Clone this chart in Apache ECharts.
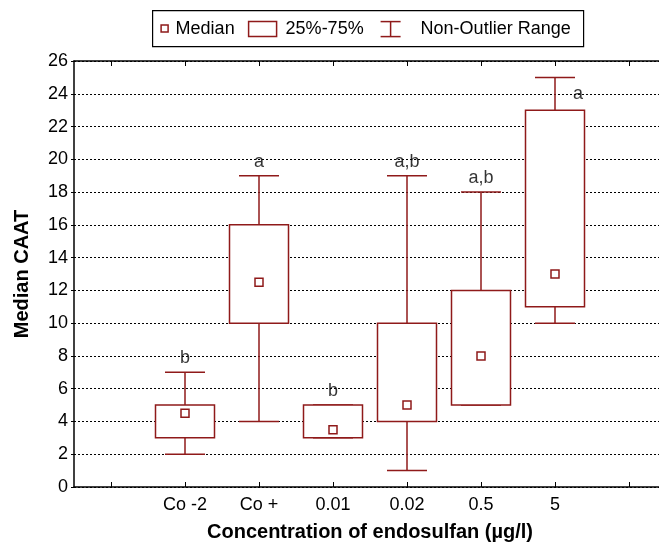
<!DOCTYPE html>
<html>
<head>
<meta charset="utf-8">
<script src="https://cdn.jsdelivr.net/npm/echarts@6/dist/echarts.min.js"></script>
<style>
  html, body { margin: 0; padding: 0; background: #fff; }
  #chart { width: 659px; height: 544px; }
</style>
</head>
<body>
<div id="chart"></div>
<script>
// categories (blank slots at both ends, like the original axis)
var categories = ['', 'Co -2', 'Co +', '0.01', '0.02', '0.5', '5', ''];
var groups = ['Co -2', 'Co +', '0.01', '0.02', '0.5', '5'];
var whiskerLow = [2, 4, 3, 1, 5, 10];
var q1 = [3, 10, 3, 4, 5, 11];
var median = [4.5, 12.5, 3.5, 5, 8, 13];
var q3 = [5, 16, 5, 10, 12, 23];
var whiskerHigh = [7, 19, 5, 19, 18, 25];
var letters = ['b', 'a', 'b', 'a,b', 'a,b', 'a'];
var yTicks = [0, 26, 2]; // min, max, step

var RED = '#8f1a1a';
var FONT = 'Liberation Sans, Arial, sans-serif';

var chart = echarts.init(document.getElementById('chart'));

function whiskerItem(params, api) {
  var x = api.value(0);
  var lo = api.coord([x, api.value(1)]);
  var hi = api.coord([x, api.value(2)]);
  var half = 20;
  var st = { stroke: RED, lineWidth: 1.5 };
  return {
    type: 'group',
    children: [
      { type: 'line', shape: { x1: lo[0], y1: lo[1], x2: hi[0], y2: hi[1] }, style: st },
      { type: 'line', shape: { x1: lo[0] - half, y1: lo[1], x2: lo[0] + half, y2: lo[1] }, style: st },
      { type: 'line', shape: { x1: hi[0] - half, y1: hi[1], x2: hi[0] + half, y2: hi[1] }, style: st }
    ]
  };
}

function boxItem(params, api) {
  var x = api.value(0);
  var bot = api.coord([x, api.value(1)]);
  var top = api.coord([x, api.value(2)]);
  var half = 29.5;
  return {
    type: 'rect',
    shape: { x: bot[0] - half, y: top[1], width: half * 2, height: bot[1] - top[1] },
    style: { fill: '#fff', stroke: RED, lineWidth: 1.5 }
  };
}

var option = {
  animation: false,
  textStyle: { fontFamily: FONT },
  grid: { left: 74, top: 61, width: 592, height: 426, outerBoundsMode: 'none', containLabel: false },
  xAxis: [
    {
      type: 'category',
      data: categories,
      boundaryGap: true,
      axisLine: { lineStyle: { color: '#000', width: 1.5 } },
      axisTick: { show: true, interval: 0, alignWithLabel: true, inside: true, length: 5, lineStyle: { color: '#000' } },
      axisLabel: { color: '#000', fontSize: 18, margin: 9, fontFamily: FONT, interval: 0 },
      splitLine: { show: false },
      name: 'Concentration of endosulfan (\u00b5g/l)',
      nameLocation: 'middle',
      nameGap: 35,
      nameTextStyle: { color: '#000', fontSize: 20, fontWeight: 'bold', fontFamily: FONT }
    },
    {
      type: 'category',
      position: 'top',
      data: categories,
      boundaryGap: true,
      axisLine: { lineStyle: { color: '#000', width: 1.5 } },
      axisTick: { show: true, interval: 0, alignWithLabel: true, inside: true, length: 5, lineStyle: { color: '#000' } },
      axisLabel: { show: false }
    }
  ],
  yAxis: {
    type: 'value',
    min: yTicks[0],
    max: yTicks[1],
    interval: yTicks[2],
    axisLine: { show: true, lineStyle: { color: '#000', width: 1.5 } },
    axisTick: { show: true, length: 3, lineStyle: { color: '#000' } },
    axisLabel: { color: '#000', fontSize: 18, margin: 6, fontFamily: FONT },
    splitLine: { lineStyle: { color: '#000', type: [2, 2], width: 1 } },
    name: 'Median CAAT',
    nameLocation: 'middle',
    nameGap: 42,
    nameTextStyle: { color: '#000', fontSize: 20, fontWeight: 'bold', fontFamily: FONT }
  },
  series: [
    {
      name: 'Non-Outlier Range',
      type: 'custom',
      renderItem: whiskerItem,
      encode: { x: 0, y: [1, 2] },
      data: groups.map(function (g, i) { return [g, whiskerLow[i], whiskerHigh[i]]; }),
      z: 2
    },
    {
      name: '25%-75%',
      type: 'custom',
      renderItem: boxItem,
      encode: { x: 0, y: [1, 2] },
      data: groups.map(function (g, i) { return [g, q1[i], q3[i]]; }),
      z: 3
    },
    {
      name: 'Median',
      type: 'scatter',
      symbol: 'rect',
      symbolSize: 8,
      itemStyle: { color: '#fff', borderColor: RED, borderWidth: 1.5, opacity: 1 },
      data: groups.map(function (g, i) { return [g, median[i]]; }),
      z: 4
    },
    {
      name: 'letters',
      type: 'scatter',
      symbolSize: 0,
      silent: true,
      label: {
        show: true,
        position: 'top',
        distance: 5,
        color: '#000',
        fontSize: 18,
        fontFamily: FONT,
        formatter: function (p) { return letters[p.dataIndex]; }
      },
      data: groups.map(function (g, i) {
        var item = { value: [g, whiskerHigh[i]] };
        if (i === groups.length - 1) {
          item.label = { offset: [23, 31] };
        }
        return item;
      }),
      z: 5
    }
  ],
  graphic: [
    {
      type: 'group',
      left: 152,
      top: 10,
      children: [
        { type: 'rect', shape: { x: 0, y: 0, width: 431, height: 36 }, style: { fill: '#fff', stroke: '#000', lineWidth: 1.2 } },
        { type: 'rect', shape: { x: 8.5, y: 14.5, width: 7, height: 7 }, style: { fill: '#fff', stroke: RED, lineWidth: 1.5 } },
        { type: 'text', x: 23, y: 18, style: { text: 'Median', fontSize: 18, fontFamily: FONT, fill: '#000', verticalAlign: 'middle' } },
        { type: 'rect', shape: { x: 96, y: 11, width: 28, height: 15 }, style: { fill: '#fff', stroke: RED, lineWidth: 1.5 } },
        { type: 'text', x: 133, y: 18, style: { text: '25%-75%', fontSize: 18, fontFamily: FONT, fill: '#000', verticalAlign: 'middle' } },
        { type: 'line', shape: { x1: 228, y1: 11, x2: 248, y2: 11 }, style: { stroke: RED, lineWidth: 1.5 } },
        { type: 'line', shape: { x1: 238, y1: 11, x2: 238, y2: 26 }, style: { stroke: RED, lineWidth: 1.5 } },
        { type: 'line', shape: { x1: 228, y1: 26, x2: 248, y2: 26 }, style: { stroke: RED, lineWidth: 1.5 } },
        { type: 'text', x: 268, y: 18, style: { text: 'Non-Outlier Range', fontSize: 18, fontFamily: FONT, fill: '#000', verticalAlign: 'middle' } }
      ]
    }
  ]
};

chart.setOption(option);
</script>
</body>
</html>
